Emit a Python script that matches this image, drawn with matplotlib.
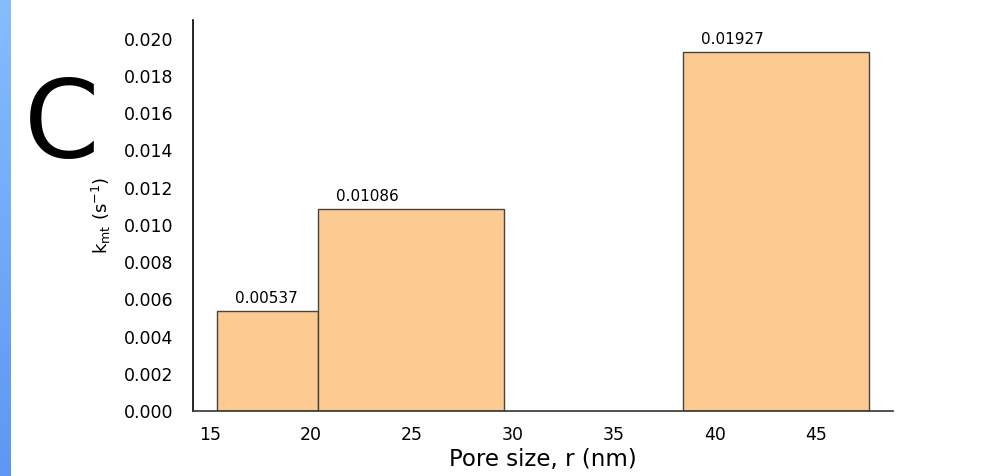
import numpy as np
import matplotlib
matplotlib.use('Agg')
import matplotlib.pyplot as plt

# Données : classes de taille de pores (bords gauche et largeurs) et k_mt
bin_left = [15.35, 20.35, 38.4]
bin_width = [5.0, 9.2, 9.2]
k_mt = [0.00537, 0.01086, 0.01927]
k_labels = ['0.00537', '0.01086', '0.01927']
x_ticks = [15, 20, 25, 30, 35, 40, 45]
y_ticks = np.arange(0, 0.0201, 0.002)

plt.rcParams['font.family'] = ['DejaVu Sans']

fig = plt.figure(figsize=(10.05, 4.76), dpi=100)

# Bande bleue à gauche (dégradé)
band = fig.add_axes([0, 0, 10 / 1005, 1])
grad = np.linspace(0, 1, 256).reshape(-1, 1)
cmap = matplotlib.colors.LinearSegmentedColormap.from_list('bande', ['#86bdfd', '#5c97f3'])
band.imshow(grad, aspect='auto', cmap=cmap, extent=[0, 1, 0, 1], origin='upper')
band.axis('off')

ax = fig.add_axes([0.192, 0.1366, 0.6966, 0.8214])

bars = ax.bar(bin_left, k_mt, width=bin_width, align='edge',
              color='#fdcb92', edgecolor='#444444', linewidth=1.0)

# Étiquettes de valeurs au-dessus des barres
for left, h, lab in zip(bin_left, k_mt, k_labels):
    ax.annotate(lab, xy=(left, h), xytext=(13, 3.5), textcoords='offset points',
                ha='left', va='bottom', fontsize=11)

ax.set_xlim(14.16, 48.8)
ax.set_ylim(0, 0.021)
ax.set_xticks(x_ticks)
ax.set_yticks(y_ticks)
ax.set_yticklabels([f'{v:.3f}' for v in y_ticks])
ax.tick_params(axis='both', length=0, labelsize=12.5)
ax.tick_params(axis='y', pad=14)
ax.tick_params(axis='x', pad=11)

for s in ['top', 'right']:
    ax.spines[s].set_visible(False)
ax.spines['left'].set_linewidth(1.2)
ax.spines['bottom'].set_linewidth(1.2)
ax.spines['bottom'].set_color('#333333')

ax.set_xlabel('Pore size, r (nm)', fontsize=16.5, labelpad=3)
ax.set_ylabel(r'k$_{\rm mt}$ (s$^{-1}$)', fontsize=13, labelpad=8)

# Lettre du panneau
fig.text(62 / 1005, 1 - 127 / 476, 'C', fontsize=78, family='DejaVu Sans',
         ha='center', va='center')

plt.savefig('out.png', dpi=100)
